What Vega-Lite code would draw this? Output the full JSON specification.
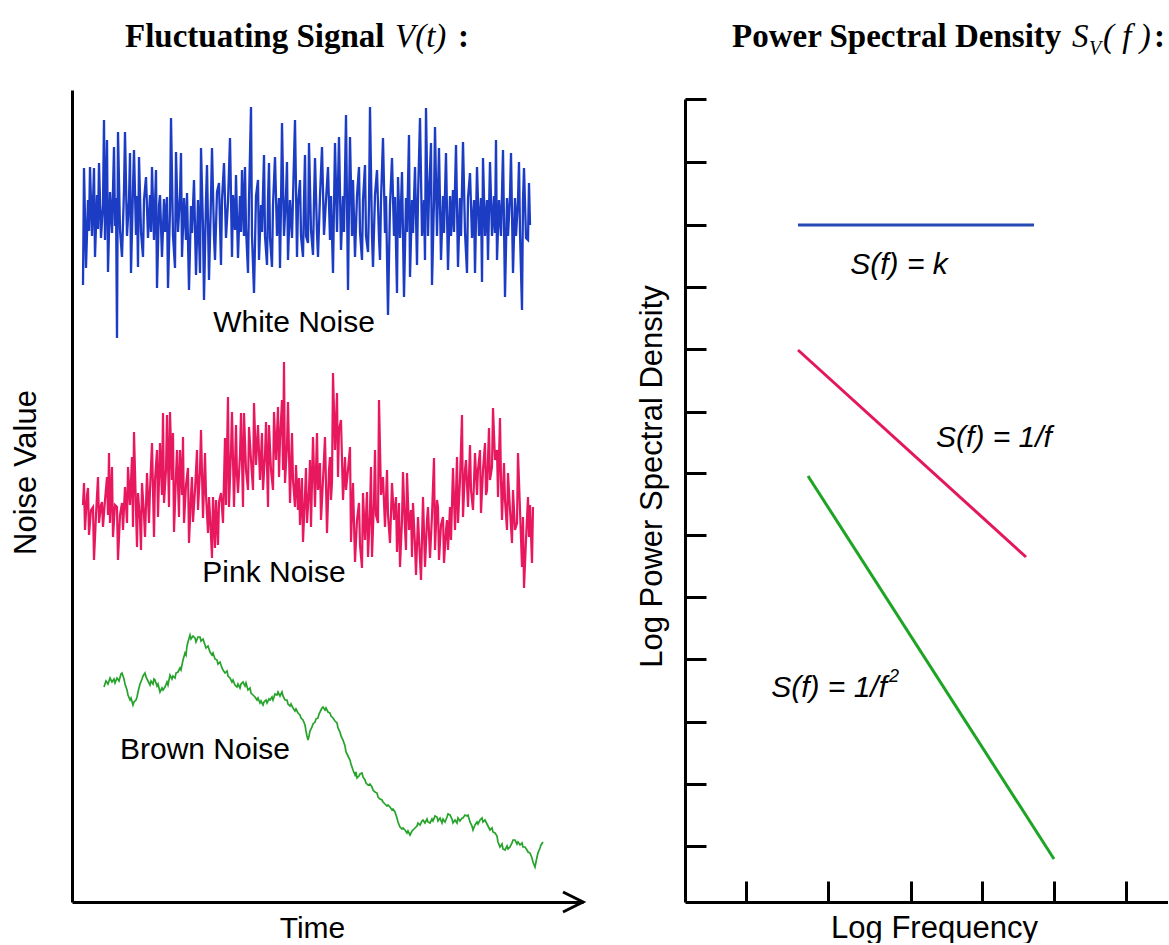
{
  "$schema": "https://vega.github.io/schema/vega-lite/v6.json",
  "background": "white",
  "padding": {"left": 10, "top": 20, "right": 0, "bottom": 0},
  "spacing": 46,
  "config": {"view": {"stroke": null}, "font": "Liberation Sans"},
  "datasets": {
    "white": [
      {"t":11,"v":617},{"t":12,"v":734},{"t":14,"v":634},{"t":16,"v":702},{"t":17,"v":671},{"t":18,"v":735},{"t":20,"v":666},{"t":22,"v":734},{"t":23,"v":645},{"t":25,"v":707},
      {"t":26,"v":673},{"t":27,"v":739},{"t":29,"v":664},{"t":31,"v":697},{"t":32,"v":782},{"t":33,"v":662},{"t":35,"v":762},{"t":36,"v":630},{"t":38,"v":710},{"t":40,"v":669},
      {"t":42,"v":755},{"t":43,"v":676},{"t":44,"v":704},{"t":45,"v":564},{"t":46,"v":770},{"t":48,"v":672},{"t":50,"v":645},{"t":52,"v":712},{"t":53,"v":770},{"t":55,"v":666},
      {"t":57,"v":702},{"t":58,"v":749},{"t":59,"v":629},{"t":61,"v":714},{"t":62,"v":752},{"t":64,"v":667},{"t":65,"v":706},{"t":66,"v":635},{"t":67,"v":745},{"t":69,"v":670},
      {"t":71,"v":645},{"t":72,"v":702},{"t":74,"v":725},{"t":76,"v":664},{"t":78,"v":707},{"t":79,"v":670},{"t":80,"v":735},{"t":82,"v":662},{"t":84,"v":732},{"t":85,"v":614},
      {"t":87,"v":697},{"t":88,"v":707},{"t":90,"v":645},{"t":92,"v":703},{"t":93,"v":670},{"t":95,"v":705},{"t":96,"v":614},{"t":98,"v":692},{"t":99,"v":784},{"t":101,"v":666},
      {"t":103,"v":634},{"t":104,"v":750},{"t":106,"v":670},{"t":108,"v":707},{"t":109,"v":749},{"t":110,"v":645},{"t":112,"v":704},{"t":114,"v":662},{"t":115,"v":709},{"t":117,"v":612},
      {"t":119,"v":696},{"t":120,"v":669},{"t":122,"v":722},{"t":124,"v":627},{"t":126,"v":702},{"t":128,"v":629},{"t":129,"v":754},{"t":131,"v":674},{"t":132,"v":602},{"t":134,"v":702},
      {"t":135,"v":737},{"t":137,"v":622},{"t":139,"v":704},{"t":140,"v":754},{"t":142,"v":666},{"t":143,"v":642},{"t":145,"v":710},{"t":147,"v":719},{"t":149,"v":637},{"t":150,"v":702},
      {"t":152,"v":739},{"t":154,"v":664},{"t":156,"v":700},{"t":158,"v":764},{"t":160,"v":645},{"t":161,"v":707},{"t":163,"v":672},{"t":164,"v":727},{"t":166,"v":644},{"t":168,"v":706},
      {"t":169,"v":670},{"t":170,"v":732},{"t":172,"v":666},{"t":173,"v":735},{"t":174,"v":674},{"t":176,"v":629},{"t":177,"v":702},{"t":179,"v":795},{"t":180,"v":666},{"t":182,"v":609},
      {"t":184,"v":706},{"t":186,"v":722},{"t":187,"v":642},{"t":189,"v":697},{"t":190,"v":670},{"t":192,"v":747},{"t":193,"v":666},{"t":195,"v":637},{"t":196,"v":702},{"t":197,"v":739},
      {"t":198,"v":664},{"t":200,"v":635},{"t":201,"v":697},{"t":203,"v":745},{"t":205,"v":666},{"t":207,"v":704},{"t":208,"v":634},{"t":209,"v":697},{"t":210,"v":779},{"t":212,"v":666},
      {"t":214,"v":707},{"t":215,"v":740},{"t":216,"v":642},{"t":218,"v":702},{"t":220,"v":664},{"t":221,"v":704},{"t":223,"v":782},{"t":225,"v":645},{"t":226,"v":697},{"t":228,"v":722},
      {"t":229,"v":666},{"t":231,"v":645},{"t":232,"v":702},{"t":233,"v":747},{"t":234,"v":666},{"t":236,"v":659},{"t":237,"v":759},{"t":239,"v":672},{"t":241,"v":647},{"t":242,"v":702},
      {"t":243,"v":744},{"t":245,"v":669},{"t":246,"v":645},{"t":248,"v":706},{"t":250,"v":755},{"t":252,"v":667},{"t":254,"v":702},{"t":256,"v":735},{"t":258,"v":662},{"t":259,"v":706},
      {"t":261,"v":629},{"t":262,"v":697},{"t":263,"v":759},{"t":265,"v":670},{"t":267,"v":765},{"t":269,"v":652},{"t":271,"v":706},{"t":272,"v":670},{"t":274,"v":787},{"t":276,"v":612},
      {"t":277,"v":697},{"t":278,"v":765},{"t":280,"v":666},{"t":281,"v":722},{"t":283,"v":645},{"t":285,"v":706},{"t":287,"v":735},{"t":288,"v":670},{"t":290,"v":642},{"t":291,"v":702},
      {"t":293,"v":737},{"t":294,"v":666},{"t":296,"v":650},{"t":297,"v":697},{"t":298,"v":795},{"t":300,"v":666},{"t":301,"v":635},{"t":303,"v":707},{"t":305,"v":732},{"t":307,"v":664},
      {"t":308,"v":642},{"t":309,"v":702},{"t":311,"v":764},{"t":313,"v":669},{"t":314,"v":706},{"t":316,"v":587},{"t":318,"v":697},{"t":320,"v":744},{"t":322,"v":666},{"t":323,"v":705},
      {"t":325,"v":609},{"t":326,"v":725},{"t":328,"v":664},{"t":329,"v":697},{"t":330,"v":730},{"t":332,"v":605},{"t":334,"v":704},{"t":335,"v":670},{"t":337,"v":767},{"t":338,"v":625},
      {"t":340,"v":702},{"t":341,"v":669},{"t":343,"v":735},{"t":345,"v":637},{"t":346,"v":704},{"t":348,"v":784},{"t":350,"v":666},{"t":352,"v":702},{"t":353,"v":642},{"t":354,"v":794},
      {"t":356,"v":666},{"t":357,"v":706},{"t":359,"v":759},{"t":360,"v":617},{"t":362,"v":702},{"t":363,"v":775},{"t":365,"v":666},{"t":367,"v":754},{"t":369,"v":642},{"t":371,"v":706},
      {"t":372,"v":669},{"t":374,"v":749},{"t":376,"v":632},{"t":378,"v":706},{"t":379,"v":666},{"t":381,"v":712},{"t":382,"v":670},{"t":384,"v":757},{"t":386,"v":635},{"t":388,"v":704},
      {"t":389,"v":666},{"t":391,"v":760},{"t":393,"v":670},{"t":395,"v":629},{"t":396,"v":704},{"t":398,"v":729},{"t":400,"v":664},{"t":402,"v":702},{"t":403,"v":629},{"t":405,"v":735},
      {"t":407,"v":666},{"t":409,"v":704},{"t":410,"v":620},{"t":411,"v":744},{"t":413,"v":666},{"t":415,"v":702},{"t":416,"v":642},{"t":418,"v":740},{"t":420,"v":666},{"t":422,"v":706},
      {"t":423,"v":669},{"t":424,"v":762},{"t":425,"v":642},{"t":427,"v":702},{"t":429,"v":666},{"t":431,"v":752},{"t":433,"v":605},{"t":435,"v":704},{"t":436,"v":666},{"t":438,"v":706},
      {"t":439,"v":749},{"t":441,"v":629},{"t":443,"v":704},{"t":444,"v":666},{"t":446,"v":702},{"t":447,"v":740},{"t":448,"v":670},{"t":450,"v":592},{"t":451,"v":702},{"t":452,"v":734},
      {"t":454,"v":664},{"t":456,"v":662},{"t":457,"v":719},{"t":458,"v":677}
    ],
    "pink": [
      {"t":11,"v":397},{"t":12,"v":419},{"t":13,"v":372},{"t":15,"v":407},{"t":16,"v":414},{"t":17,"v":367},{"t":19,"v":392},{"t":21,"v":395},{"t":22,"v":342},{"t":24,"v":387},
      {"t":26,"v":425},{"t":27,"v":379},{"t":29,"v":397},{"t":30,"v":400},{"t":31,"v":375},{"t":33,"v":402},{"t":35,"v":425},{"t":36,"v":387},{"t":37,"v":449},{"t":38,"v":379},
      {"t":40,"v":435},{"t":41,"v":365},{"t":43,"v":397},{"t":45,"v":395},{"t":46,"v":342},{"t":48,"v":387},{"t":50,"v":399},{"t":51,"v":372},{"t":53,"v":415},{"t":55,"v":379},
      {"t":56,"v":435},{"t":58,"v":397},{"t":60,"v":445},{"t":61,"v":375},{"t":62,"v":470},{"t":64,"v":392},{"t":65,"v":355},{"t":66,"v":409},{"t":68,"v":382},{"t":69,"v":352},
      {"t":70,"v":419},{"t":72,"v":387},{"t":73,"v":365},{"t":75,"v":429},{"t":77,"v":379},{"t":78,"v":412},{"t":80,"v":459},{"t":82,"v":365},{"t":83,"v":422},{"t":85,"v":452},
      {"t":86,"v":385},{"t":88,"v":459},{"t":90,"v":407},{"t":91,"v":489},{"t":92,"v":399},{"t":94,"v":432},{"t":95,"v":487},{"t":97,"v":395},{"t":98,"v":490},{"t":100,"v":422},
      {"t":101,"v":469},{"t":102,"v":370},{"t":104,"v":427},{"t":105,"v":452},{"t":107,"v":385},{"t":108,"v":452},{"t":110,"v":407},{"t":111,"v":465},{"t":112,"v":379},{"t":114,"v":417},
      {"t":116,"v":434},{"t":117,"v":359},{"t":119,"v":407},{"t":120,"v":425},{"t":121,"v":380},{"t":123,"v":412},{"t":125,"v":452},{"t":126,"v":392},{"t":128,"v":432},{"t":129,"v":472},
      {"t":131,"v":384},{"t":133,"v":449},{"t":134,"v":407},{"t":136,"v":369},{"t":137,"v":405},{"t":138,"v":387},{"t":140,"v":344},{"t":141,"v":405},{"t":143,"v":354},{"t":144,"v":402},
      {"t":146,"v":357},{"t":147,"v":400},{"t":149,"v":409},{"t":151,"v":379},{"t":152,"v":422},{"t":153,"v":464},{"t":154,"v":397},{"t":156,"v":505},{"t":157,"v":395},{"t":159,"v":452},
      {"t":160,"v":490},{"t":162,"v":395},{"t":164,"v":477},{"t":165,"v":427},{"t":166,"v":409},{"t":168,"v":447},{"t":169,"v":489},{"t":171,"v":395},{"t":172,"v":489},{"t":174,"v":432},
      {"t":176,"v":412},{"t":177,"v":475},{"t":179,"v":442},{"t":181,"v":412},{"t":182,"v":499},{"t":184,"v":437},{"t":186,"v":477},{"t":188,"v":422},{"t":190,"v":469},{"t":191,"v":412},
      {"t":193,"v":447},{"t":194,"v":480},{"t":196,"v":395},{"t":197,"v":477},{"t":199,"v":432},{"t":201,"v":412},{"t":202,"v":490},{"t":204,"v":442},{"t":206,"v":495},{"t":207,"v":425},
      {"t":208,"v":462},{"t":210,"v":502},{"t":211,"v":432},{"t":212,"v":540},{"t":213,"v":419},{"t":215,"v":457},{"t":216,"v":500},{"t":218,"v":399},{"t":220,"v":469},{"t":221,"v":422},
      {"t":223,"v":395},{"t":224,"v":437},{"t":226,"v":392},{"t":227,"v":424},{"t":228,"v":377},{"t":230,"v":424},{"t":231,"v":360},{"t":233,"v":407},{"t":234,"v":434},{"t":235,"v":379},
      {"t":237,"v":412},{"t":238,"v":442},{"t":239,"v":375},{"t":241,"v":465},{"t":243,"v":395},{"t":245,"v":469},{"t":246,"v":412},{"t":248,"v":439},{"t":249,"v":382},{"t":251,"v":422},
      {"t":253,"v":465},{"t":255,"v":369},{"t":257,"v":432},{"t":258,"v":445},{"t":259,"v":402},{"t":260,"v":420},{"t":261,"v":529},{"t":263,"v":452},{"t":265,"v":509},{"t":266,"v":425},
      {"t":267,"v":472},{"t":269,"v":482},{"t":271,"v":402},{"t":273,"v":445},{"t":274,"v":412},{"t":276,"v":432},{"t":278,"v":455},{"t":279,"v":360},{"t":281,"v":419},{"t":283,"v":340},
      {"t":285,"v":382},{"t":287,"v":399},{"t":288,"v":357},{"t":290,"v":334},{"t":291,"v":409},{"t":293,"v":362},{"t":295,"v":410},{"t":296,"v":345},{"t":298,"v":392},{"t":299,"v":435},
      {"t":300,"v":345},{"t":302,"v":402},{"t":303,"v":452},{"t":304,"v":387},{"t":306,"v":379},{"t":307,"v":502},{"t":309,"v":407},{"t":311,"v":425},{"t":313,"v":375},{"t":315,"v":432},
      {"t":316,"v":387},{"t":318,"v":359},{"t":320,"v":419},{"t":322,"v":382},{"t":324,"v":405},{"t":325,"v":350},{"t":327,"v":399},{"t":328,"v":335},{"t":330,"v":382},{"t":331,"v":430},
      {"t":333,"v":372},{"t":334,"v":352},{"t":335,"v":429},{"t":337,"v":372},{"t":339,"v":392},{"t":340,"v":345},{"t":341,"v":399},{"t":343,"v":357},{"t":344,"v":327},{"t":346,"v":385},
      {"t":348,"v":342},{"t":349,"v":322},{"t":351,"v":405},{"t":353,"v":335},{"t":355,"v":382},{"t":356,"v":395},{"t":358,"v":344},{"t":360,"v":387},{"t":362,"v":444},{"t":363,"v":352},
      {"t":365,"v":402},{"t":366,"v":395},{"t":367,"v":342},{"t":369,"v":377},{"t":371,"v":385},{"t":372,"v":339},{"t":374,"v":372},{"t":375,"v":382},{"t":376,"v":352},{"t":378,"v":395},
      {"t":379,"v":362},{"t":381,"v":434},{"t":383,"v":372},{"t":385,"v":445},{"t":386,"v":379},{"t":388,"v":422},{"t":390,"v":487},{"t":391,"v":385},{"t":393,"v":432},{"t":394,"v":442},
      {"t":396,"v":395},{"t":398,"v":457},{"t":399,"v":412},{"t":401,"v":392},{"t":403,"v":449},{"t":405,"v":407},{"t":406,"v":432},{"t":408,"v":452},{"t":409,"v":389},{"t":411,"v":432},
      {"t":413,"v":459},{"t":414,"v":407},{"t":415,"v":412},{"t":417,"v":474},{"t":418,"v":422},{"t":420,"v":435},{"t":421,"v":494},{"t":423,"v":442},{"t":425,"v":452},{"t":426,"v":405},
      {"t":428,"v":484},{"t":429,"v":422},{"t":430,"v":382},{"t":432,"v":439},{"t":433,"v":402},{"t":435,"v":372},{"t":436,"v":429},{"t":438,"v":392},{"t":440,"v":359},{"t":441,"v":412},
      {"t":443,"v":372},{"t":445,"v":379},{"t":446,"v":449},{"t":448,"v":392},{"t":450,"v":335},{"t":451,"v":385},{"t":452,"v":314},{"t":454,"v":362},{"t":456,"v":405},{"t":457,"v":365},
      {"t":458,"v":397},{"t":460,"v":339},{"t":461,"v":395}
    ],
    "brown": [
      {"t":32,"v":215},{"t":34,"v":221},{"t":36,"v":218},{"t":38,"v":224},{"t":40,"v":220},{"t":42,"v":223},{"t":43,"v":219},{"t":45,"v":224},{"t":47,"v":221},{"t":49,"v":228},
      {"t":50,"v":229},{"t":52,"v":223},{"t":53,"v":218},{"t":55,"v":212},{"t":56,"v":207},{"t":58,"v":202},{"t":59,"v":204},{"t":61,"v":197},{"t":62,"v":200},{"t":64,"v":202},
      {"t":65,"v":205},{"t":66,"v":210},{"t":68,"v":218},{"t":70,"v":223},{"t":71,"v":226},{"t":73,"v":229},{"t":74,"v":225},{"t":76,"v":221},{"t":78,"v":217},{"t":79,"v":221},
      {"t":81,"v":218},{"t":82,"v":223},{"t":83,"v":222},{"t":85,"v":216},{"t":86,"v":218},{"t":88,"v":210},{"t":90,"v":214},{"t":91,"v":212},{"t":93,"v":215},{"t":95,"v":220},
      {"t":96,"v":217},{"t":98,"v":227},{"t":100,"v":223},{"t":101,"v":226},{"t":103,"v":224},{"t":104,"v":229},{"t":106,"v":230},{"t":108,"v":234},{"t":109,"v":232},{"t":111,"v":242},
      {"t":113,"v":249},{"t":114,"v":247},{"t":115,"v":256},{"t":116,"v":260},{"t":118,"v":267},{"t":119,"v":263},{"t":121,"v":266},{"t":123,"v":264},{"t":124,"v":260},{"t":126,"v":265},
      {"t":128,"v":265},{"t":129,"v":261},{"t":131,"v":263},{"t":133,"v":257},{"t":134,"v":254},{"t":136,"v":256},{"t":138,"v":250},{"t":140,"v":247},{"t":141,"v":249},{"t":143,"v":243},
      {"t":145,"v":242},{"t":146,"v":238},{"t":148,"v":240},{"t":150,"v":234},{"t":151,"v":232},{"t":153,"v":229},{"t":155,"v":231},{"t":156,"v":226},{"t":158,"v":224},{"t":160,"v":220},
      {"t":161,"v":222},{"t":163,"v":217},{"t":165,"v":215},{"t":166,"v":218},{"t":168,"v":214},{"t":169,"v":218},{"t":171,"v":220},{"t":173,"v":216},{"t":174,"v":219},{"t":176,"v":212},
      {"t":178,"v":214},{"t":179,"v":209},{"t":181,"v":207},{"t":183,"v":205},{"t":185,"v":202},{"t":186,"v":204},{"t":188,"v":199},{"t":189,"v":201},{"t":191,"v":197},{"t":192,"v":200},
      {"t":194,"v":202},{"t":195,"v":199},{"t":197,"v":203},{"t":198,"v":202},{"t":200,"v":205},{"t":201,"v":202},{"t":203,"v":208},{"t":205,"v":207},{"t":206,"v":210},{"t":208,"v":206},
      {"t":210,"v":210},{"t":211,"v":206},{"t":213,"v":202},{"t":215,"v":202},{"t":216,"v":198},{"t":218,"v":196},{"t":219,"v":198},{"t":221,"v":194},{"t":223,"v":191},{"t":224,"v":193},
      {"t":226,"v":189},{"t":228,"v":187},{"t":229,"v":184},{"t":231,"v":182},{"t":233,"v":177},{"t":234,"v":171},{"t":235,"v":166},{"t":236,"v":162},{"t":237,"v":166},{"t":238,"v":171},
      {"t":240,"v":175},{"t":241,"v":178},{"t":243,"v":180},{"t":244,"v":183},{"t":246,"v":184},{"t":247,"v":188},{"t":249,"v":192},{"t":250,"v":194},{"t":251,"v":195},{"t":253,"v":192},
      {"t":254,"v":194},{"t":256,"v":190},{"t":258,"v":189},{"t":259,"v":186},{"t":261,"v":184},{"t":263,"v":181},{"t":265,"v":179},{"t":266,"v":174},{"t":268,"v":170},{"t":269,"v":166},
      {"t":271,"v":162},{"t":273,"v":156},{"t":274,"v":150},{"t":276,"v":146},{"t":278,"v":142},{"t":279,"v":138},{"t":281,"v":132},{"t":283,"v":127},{"t":284,"v":130},{"t":285,"v":124},
      {"t":287,"v":126},{"t":288,"v":128},{"t":290,"v":129},{"t":291,"v":125},{"t":293,"v":122},{"t":294,"v":119},{"t":296,"v":117},{"t":298,"v":118},{"t":300,"v":115},{"t":301,"v":112},
      {"t":303,"v":110},{"t":305,"v":109},{"t":306,"v":105},{"t":308,"v":103},{"t":310,"v":102},{"t":311,"v":100},{"t":313,"v":98},{"t":315,"v":96},{"t":316,"v":97},{"t":318,"v":95},
      {"t":320,"v":92},{"t":321,"v":93},{"t":323,"v":90},{"t":325,"v":84},{"t":326,"v":80},{"t":328,"v":75},{"t":330,"v":73},{"t":331,"v":74},{"t":333,"v":72},{"t":335,"v":69},
      {"t":336,"v":71},{"t":338,"v":67},{"t":340,"v":71},{"t":341,"v":72},{"t":343,"v":74},{"t":345,"v":76},{"t":346,"v":79},{"t":348,"v":77},{"t":350,"v":81},{"t":351,"v":82},
      {"t":353,"v":79},{"t":355,"v":83},{"t":356,"v":80},{"t":358,"v":79},{"t":360,"v":83},{"t":361,"v":81},{"t":363,"v":86},{"t":365,"v":85},{"t":366,"v":81},{"t":368,"v":84},
      {"t":370,"v":79},{"t":371,"v":83},{"t":373,"v":80},{"t":375,"v":85},{"t":376,"v":88},{"t":378,"v":87},{"t":380,"v":83},{"t":381,"v":79},{"t":383,"v":82},{"t":385,"v":79},
      {"t":386,"v":84},{"t":388,"v":81},{"t":390,"v":84},{"t":391,"v":84},{"t":393,"v":87},{"t":395,"v":86},{"t":396,"v":87},{"t":398,"v":80},{"t":400,"v":76},{"t":401,"v":72},
      {"t":403,"v":77},{"t":405,"v":80},{"t":406,"v":78},{"t":408,"v":82},{"t":410,"v":84},{"t":411,"v":80},{"t":413,"v":82},{"t":415,"v":78},{"t":416,"v":76},{"t":418,"v":72},
      {"t":420,"v":74},{"t":421,"v":70},{"t":423,"v":69},{"t":425,"v":66},{"t":426,"v":60},{"t":428,"v":55},{"t":430,"v":58},{"t":431,"v":53},{"t":433,"v":52},{"t":435,"v":56},
      {"t":436,"v":53},{"t":438,"v":55},{"t":440,"v":59},{"t":441,"v":62},{"t":443,"v":62},{"t":445,"v":58},{"t":446,"v":60},{"t":448,"v":57},{"t":450,"v":59},{"t":451,"v":55},
      {"t":453,"v":55},{"t":455,"v":52},{"t":456,"v":50},{"t":458,"v":49},{"t":460,"v":44},{"t":461,"v":40},{"t":463,"v":35},{"t":464,"v":40},{"t":465,"v":45},{"t":466,"v":49},
      {"t":468,"v":54},{"t":469,"v":57},{"t":471,"v":60}
    ]
  },
  "hconcat": [
    {
      "width": 511,
      "height": 812,
      "encoding": {
        "x": {"field": "t", "type": "quantitative", "scale": {"domain": [0, 511], "nice": false, "zero": false},
              "axis": {"title": "Time", "domain": true, "domainColor": "black", "domainWidth": 3, "ticks": false, "labels": false, "grid": false,
                       "titleFont": "Liberation Sans", "titleFontSize": 30, "titleFontWeight": "normal", "titleColor": "black",
                       "titleX": 240, "titleY": 35, "titleAlign": "center", "titleBaseline": "alphabetic"}},
        "y": {"field": "v", "type": "quantitative", "scale": {"domain": [0, 812], "nice": false, "zero": false},
              "axis": {"title": "Noise Value", "domain": true, "domainColor": "black", "domainWidth": 3, "ticks": false, "labels": false, "grid": false,
                       "titleFont": "Liberation Sans", "titleFontSize": 31, "titleFontWeight": "normal", "titleColor": "black",
                       "titleAngle": 270, "titleX": -37, "titleY": 382, "titleAlign": "center", "titleBaseline": "alphabetic"}}
      },
      "layer": [
        {"data": {"name": "white"}, "mark": {"type": "line", "color": "#1c3cc4", "strokeWidth": 2.3, "clip": false}},
        {"data": {"name": "pink"}, "mark": {"type": "line", "color": "#e8185f", "strokeWidth": 2.2, "clip": false}},
        {"data": {"name": "brown"}, "mark": {"type": "line", "color": "#25a32b", "strokeWidth": 1.7, "clip": false}},
        {"data": {"values": [{"t": 511, "v": 0}]},
         "mark": {"type": "point", "shape": "M -1 -0.5 L 0 0 L -1 0.5", "filled": false, "stroke": "black", "strokeWidth": 3, "size": 1600, "opacity": 1}},
        {"data": {"values": [
            {"t": 222, "v": 579, "label": "White Noise"},
            {"t": 202, "v": 329, "label": "Pink Noise"},
            {"t": 133, "v": 152, "label": "Brown Noise"}]},
         "mark": {"type": "text", "font": "Liberation Sans", "fontSize": 30, "color": "black", "align": "center", "baseline": "middle"},
         "encoding": {"text": {"field": "label"}}},
        {"data": {"values": [{"t": 53, "v": 855, "label": "Fluctuating Signal"}, {"t": 386, "v": 855, "label": ":"}]},
         "mark": {"type": "text", "font": "Liberation Serif", "fontSize": 33, "fontWeight": "bold", "color": "black", "align": "left", "baseline": "alphabetic"},
         "encoding": {"text": {"field": "label"}}},
        {"data": {"values": [{"t": 323, "v": 855, "label": "V(t)"}]},
         "mark": {"type": "text", "font": "Liberation Serif", "fontSize": 33, "fontStyle": "italic", "color": "black", "align": "left", "baseline": "alphabetic"},
         "encoding": {"text": {"field": "label"}}}
      ]
    },
    {
      "width": 483,
      "height": 812,
      "encoding": {
        "x": {"field": "f", "type": "quantitative", "scale": {"domain": [0, 483], "nice": false, "zero": false},
              "axis": {"title": "Log Frequency", "values": [61, 143, 226, 297, 369, 441], "domain": true, "domainColor": "black", "domainWidth": 3,
                       "ticks": true, "tickSize": -21, "tickWidth": 3, "tickColor": "black", "labels": false, "grid": false,
                       "titleFont": "Liberation Sans", "titleFontSize": 31, "titleFontWeight": "normal", "titleColor": "black",
                       "titleX": 249, "titleY": 35, "titleAlign": "center", "titleBaseline": "alphabetic"}},
        "y": {"field": "s", "type": "quantitative", "scale": {"domain": [0, 803], "range": [812, 9], "nice": false, "zero": false},
              "axis": {"title": "Log Power Spectral Density", "values": [56, 118, 180, 243, 305, 367, 429, 490, 553, 615, 677, 740, 803],
                       "domain": true, "domainColor": "black", "domainWidth": 3,
                       "ticks": true, "tickSize": -21, "tickWidth": 3, "tickColor": "black", "labels": false, "grid": false,
                       "titleFont": "Liberation Sans", "titleFontSize": 31, "titleFontWeight": "normal", "titleColor": "black",
                       "titleAngle": 270, "titleX": -24, "titleY": 386, "titleAlign": "center", "titleBaseline": "alphabetic"}}
      },
      "layer": [
        {"data": {"values": [{"f": 113, "s": 677}, {"f": 349, "s": 677}]}, "mark": {"type": "line", "color": "#2549b5", "strokeWidth": 3}},
        {"data": {"values": [{"f": 113, "s": 552}, {"f": 341, "s": 345}]}, "mark": {"type": "line", "color": "#e3175c", "strokeWidth": 3}},
        {"data": {"values": [{"f": 123, "s": 426}, {"f": 369, "s": 43}]}, "mark": {"type": "line", "color": "#1ea424", "strokeWidth": 3}},
        {"data": {"values": [{"f": 214, "s": 637, "label": "S(f) = k"}, {"f": 309, "s": 464, "label": "S(f) = 1/f"}]},
         "mark": {"type": "text", "font": "Liberation Sans", "fontSize": 30, "fontStyle": "italic", "color": "black", "align": "center", "baseline": "middle"},
         "encoding": {"text": {"field": "label"}}},
        {"data": {"values": [{"f": 202, "s": 214, "label": "S(f) = 1/f"}]},
         "mark": {"type": "text", "font": "Liberation Sans", "fontSize": 30, "fontStyle": "italic", "color": "black", "align": "right", "baseline": "middle"},
         "encoding": {"text": {"field": "label"}}},
        {"data": {"values": [{"f": 204, "s": 225, "label": "2"}]},
         "mark": {"type": "text", "font": "Liberation Sans", "fontSize": 18, "fontStyle": "italic", "color": "black", "align": "left", "baseline": "middle"},
         "encoding": {"text": {"field": "label"}}},
        {"data": {"values": [{"f": 47, "s": 855, "label": "Power Spectral Density"}, {"f": 469, "s": 855, "label": ":"}]},
         "mark": {"type": "text", "font": "Liberation Serif", "fontSize": 33, "fontWeight": "bold", "color": "black", "align": "left", "baseline": "alphabetic"},
         "encoding": {"text": {"field": "label"}}},
        {"data": {"values": [{"f": 387, "s": 855, "label": "S"}, {"f": 418, "s": 855, "label": "( f )"}]},
         "mark": {"type": "text", "font": "Liberation Serif", "fontSize": 33, "fontStyle": "italic", "color": "black", "align": "left", "baseline": "alphabetic"},
         "encoding": {"text": {"field": "label"}}},
        {"data": {"values": [{"f": 404, "s": 847, "label": "V"}]},
         "mark": {"type": "text", "font": "Liberation Serif", "fontSize": 20, "fontStyle": "italic", "color": "black", "align": "left", "baseline": "alphabetic"},
         "encoding": {"text": {"field": "label"}}}
      ]
    }
  ]
}
